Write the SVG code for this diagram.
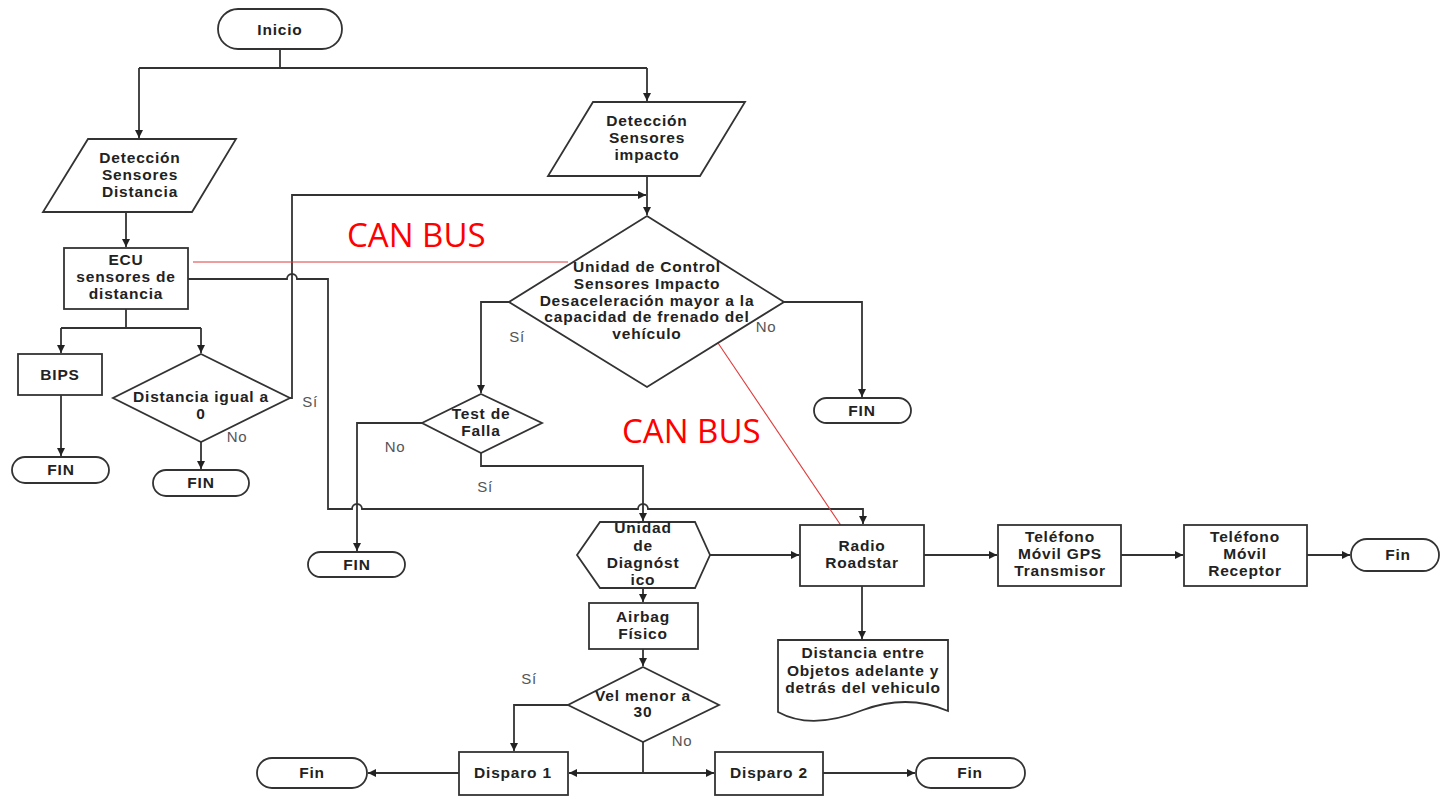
<svg xmlns="http://www.w3.org/2000/svg" width="1441" height="796" viewBox="0 0 1441 796">
<style>
.s{fill:#fff;stroke:#333;stroke-width:1.8}
.c{fill:none;stroke:#333;stroke-width:1.8}
.r{fill:none;stroke:#e03a3a;stroke-width:1.1}
.t{font-family:"Liberation Sans",Arial,sans-serif;font-weight:bold;font-size:15.5px;letter-spacing:0.8px;text-anchor:middle;fill:#222}
.l{font-family:"Liberation Sans",Arial,sans-serif;font-size:15px;letter-spacing:0.6px;text-anchor:middle;fill:#555}
.can{font-family:"Open Sans","Noto Sans",sans-serif;font-size:33px;fill:#ff0000}
</style>
<defs>
<marker id="a" markerUnits="userSpaceOnUse" markerWidth="9" markerHeight="9" refX="8" refY="4" orient="auto">
<path d="M0,0 L8,4 L0,8 z" fill="#222"/>
</marker>
</defs>
<rect width="1441" height="796" fill="#fff"/>

<g id="connectors">
<path class="c" d="M280,49 V68 M139,68 H647"/>
<path class="c" marker-end="url(#a)" d="M647,68 V101"/>
<path class="c" marker-end="url(#a)" d="M139,68 V138"/>
<path class="c" marker-end="url(#a)" d="M126,212 V247"/>
<path class="c" d="M126,309 V328 M61,328 H201"/>
<path class="c" marker-end="url(#a)" d="M61,328 V353"/>
<path class="c" marker-end="url(#a)" d="M201,328 V353"/>
<path class="c" marker-end="url(#a)" d="M61,395 V456"/>
<path class="c" marker-end="url(#a)" d="M201,442 V469"/>
<path class="c" marker-end="url(#a)" d="M290,398 H292 V195 H646"/>
<path class="c" marker-end="url(#a)" d="M647,176 V215"/>
<path class="c" marker-end="url(#a)" d="M188,279 H287 A5,5 0 0 1 297,279 H328 V509 H352 A5,5 0 0 1 362,509 H638 A5,5 0 0 1 648,509 H863 V524"/>
<path class="c" marker-end="url(#a)" d="M509,302 H481 V393"/>
<path class="c" marker-end="url(#a)" d="M784,302 H862 V397"/>
<path class="c" marker-end="url(#a)" d="M422,423 H357 V551"/>
<path class="c" marker-end="url(#a)" d="M481,453 V466 H643 V521"/>
<path class="c" marker-end="url(#a)" d="M710,555 H799"/>
<path class="c" marker-end="url(#a)" d="M643,588 V602"/>
<path class="c" marker-end="url(#a)" d="M643,649 V666"/>
<path class="c" marker-end="url(#a)" d="M568,705 H514 V751"/>
<path class="c" d="M643,742 V773"/>
<path class="c" marker-end="url(#a)" d="M643,773 H569"/>
<path class="c" marker-end="url(#a)" d="M643,773 H714"/>
<path class="c" marker-end="url(#a)" d="M459,773 H368"/>
<path class="c" marker-end="url(#a)" d="M823,773 H915"/>
<path class="c" marker-end="url(#a)" d="M924,555 H997"/>
<path class="c" marker-end="url(#a)" d="M1121,555 H1183"/>
<path class="c" marker-end="url(#a)" d="M1307,555 H1350"/>
<path class="c" marker-end="url(#a)" d="M862,586 V639"/>
<path class="r" d="M193,262 H568"/>
<path class="r" d="M718,343 L842,527"/>
<text class="l" x="310" y="407">Sí</text>
<text class="l" x="237" y="442">No</text>
<text class="l" x="517" y="342">Sí</text>
<text class="l" x="766" y="332">No</text>
<text class="l" x="395" y="452">No</text>
<text class="l" x="485" y="492">Sí</text>
<text class="l" x="529" y="684">Sí</text>
<text class="l" x="682" y="746">No</text>
<text class="can" x="347" y="247">CAN BUS</text>
<text class="can" x="622" y="443">CAN BUS</text>
</g>

<g id="inicio"><rect class="s" x="218" y="9" width="124" height="40" rx="20"/><text class="t" x="280" y="35">Inicio</text></g>
<g id="det-distancia"><polygon class="s" points="88,139 236,139 192,212 43,212"/>
<text class="t" x="140" y="163">Detección</text><text class="t" x="140" y="180">Sensores</text><text class="t" x="140" y="197">Distancia</text></g>
<g id="ecu"><rect class="s" x="64" y="248" width="124" height="61"/>
<text class="t" x="126" y="265">ECU</text><text class="t" x="126" y="282">sensores de</text><text class="t" x="126" y="299">distancia</text></g>
<g id="bips"><rect class="s" x="18" y="354" width="84" height="41"/><text class="t" x="60" y="380">BIPS</text></g>
<g id="fin1"><rect class="s" x="12" y="457" width="97" height="26" rx="13"/><text class="t" x="61" y="475">FIN</text></g>
<g id="dist-cero"><polygon class="s" points="201,354 290,398 201,442 113,398"/>
<text class="t" x="201" y="402">Distancia igual a</text><text class="t" x="201" y="419">0</text></g>
<g id="fin2"><rect class="s" x="153" y="470" width="96" height="26" rx="13"/><text class="t" x="201" y="488">FIN</text></g>
<g id="det-impacto"><polygon class="s" points="593,102 745,102 700,176 548,176"/>
<text class="t" x="647" y="126">Detección</text><text class="t" x="647" y="143">Sensores</text><text class="t" x="647" y="160">impacto</text></g>
<g id="uc-impacto"><polygon class="s" points="647,216 784,302 647,387 509,302"/>
<text class="t" x="647" y="272">Unidad de Control</text><text class="t" x="647" y="289">Sensores Impacto</text><text class="t" x="647" y="306">Desaceleración mayor a la</text><text class="t" x="647" y="322">capacidad de frenado del</text><text class="t" x="647" y="339">vehículo</text></g>
<g id="fin3"><rect class="s" x="814" y="398" width="97" height="25" rx="12.5"/><text class="t" x="862" y="416">FIN</text></g>
<g id="test-falla"><polygon class="s" points="481,394 542,423 481,453 422,423"/>
<text class="t" x="481" y="419">Test de</text><text class="t" x="481" y="436">Falla</text></g>
<g id="fin4"><rect class="s" x="308" y="552" width="97" height="25" rx="12.5"/><text class="t" x="357" y="570">FIN</text></g>
<g id="diagnostico"><polygon class="s" points="600,522 695,522 710,555 695,588 600,588 577,555"/>
<text class="t" x="643" y="533">Unidad</text><text class="t" x="643" y="551">de</text><text class="t" x="643" y="568">Diagnóst</text><text class="t" x="643" y="585">ico</text></g>
<g id="radio"><rect class="s" x="800" y="525" width="124" height="61"/>
<text class="t" x="862" y="551">Radio</text><text class="t" x="862" y="568">Roadstar</text></g>
<g id="tel-tx"><rect class="s" x="998" y="525" width="123" height="61"/>
<text class="t" x="1060" y="542">Teléfono</text><text class="t" x="1060" y="559">Móvil GPS</text><text class="t" x="1060" y="576">Transmisor</text></g>
<g id="tel-rx"><rect class="s" x="1184" y="525" width="123" height="61"/>
<text class="t" x="1245" y="542">Teléfono</text><text class="t" x="1245" y="559">Móvil</text><text class="t" x="1245" y="576">Receptor</text></g>
<g id="fin5"><rect class="s" x="1351" y="539" width="88" height="32" rx="16"/><text class="t" x="1398" y="560">Fin</text></g>
<g id="documento"><path class="s" d="M778,640 H948 V711 C918,698 890,700 863,710 C838,720 805,727 778,712 Z"/>
<text class="t" x="863" y="658">Distancia entre</text><text class="t" x="863" y="676">Objetos adelante y</text><text class="t" x="863" y="693">detrás del vehiculo</text></g>
<g id="airbag"><rect class="s" x="589" y="603" width="109" height="46"/>
<text class="t" x="643" y="622">Airbag</text><text class="t" x="643" y="639">Físico</text></g>
<g id="vel"><polygon class="s" points="643,667 719,705 643,742 568,705"/>
<text class="t" x="643" y="701">Vel menor a</text><text class="t" x="643" y="717">30</text></g>
<g id="disparo1"><rect class="s" x="459" y="752" width="109" height="43"/><text class="t" x="513" y="778">Disparo 1</text></g>
<g id="disparo2"><rect class="s" x="715" y="752" width="108" height="43"/><text class="t" x="769" y="778">Disparo 2</text></g>
<g id="fin6"><rect class="s" x="257" y="758" width="110" height="30" rx="15"/><text class="t" x="312" y="778">Fin</text></g>
<g id="fin7"><rect class="s" x="916" y="758" width="109" height="30" rx="15"/><text class="t" x="970" y="778">Fin</text></g>
</svg>
